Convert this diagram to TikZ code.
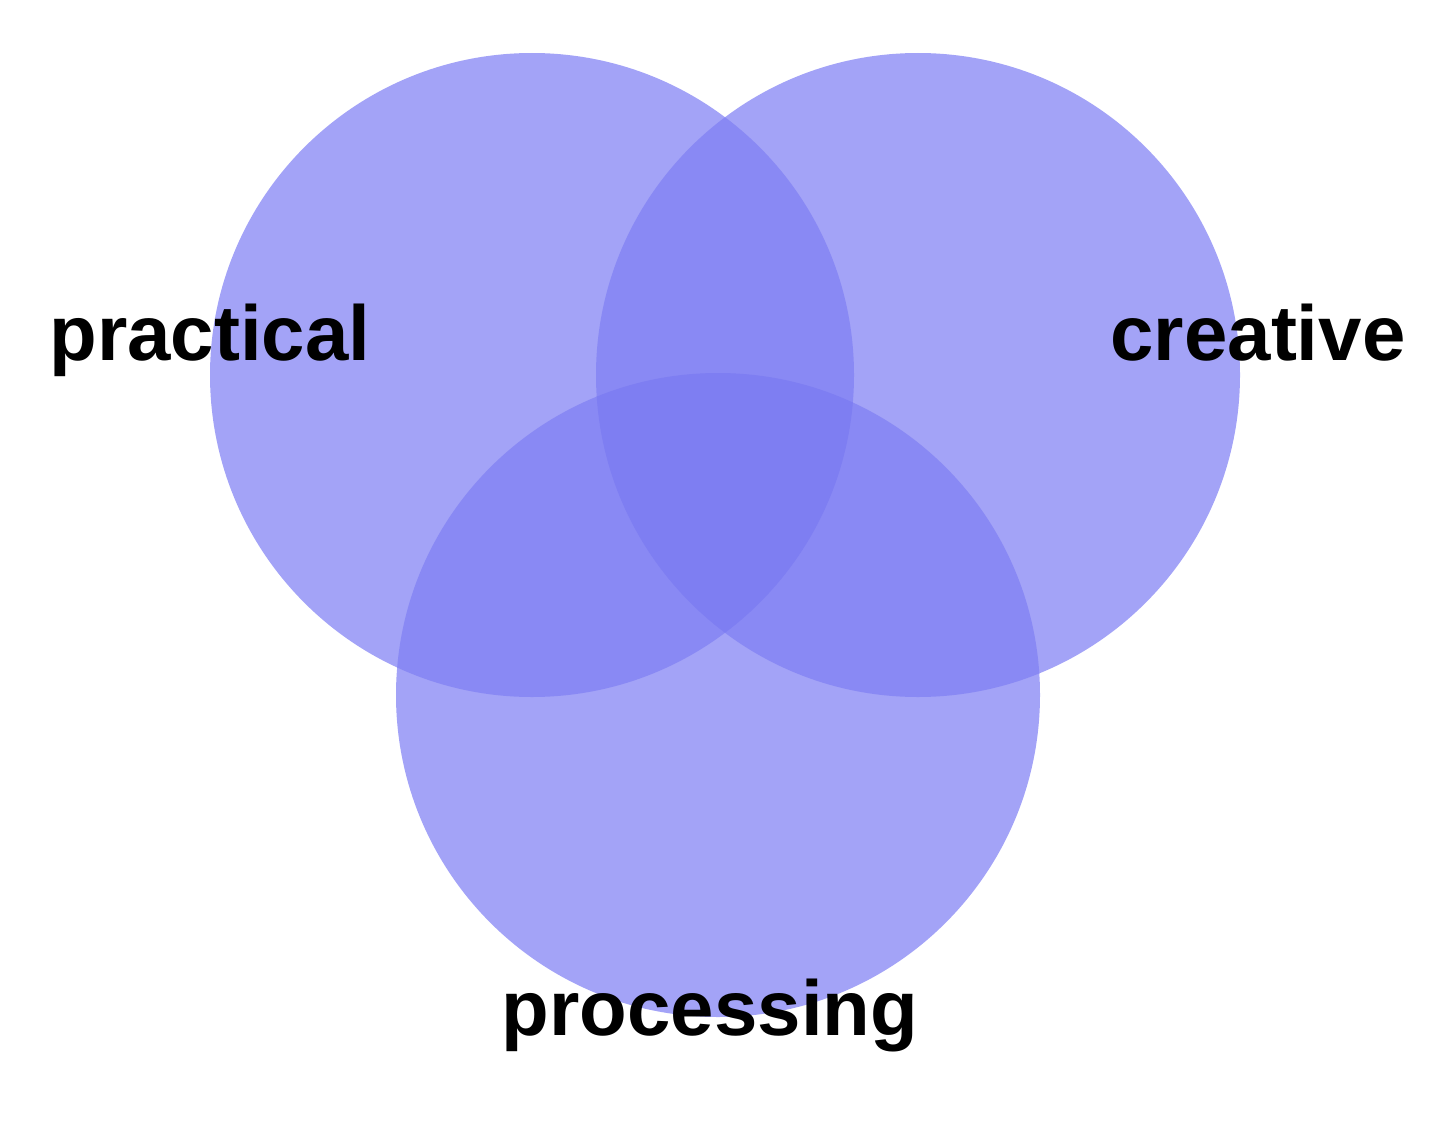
\documentclass[tikz,border=0pt]{standalone}
\usepackage{fontspec}
\setmainfont{Liberation Sans}
\definecolor{one}{RGB}{163,163,247}
\definecolor{two}{RGB}{137,137,244}
\definecolor{three}{RGB}{126,126,242}
\begin{document}
\begin{tikzpicture}[x=1pt,y=-1pt,lbl/.style={font=\fontsize{78}{80}\selectfont\bfseries,anchor=base,inner sep=0}]
\useasboundingbox (0,0) rectangle (1440,1124);
\def\r{322}
\coordinate (L) at (532,375);
\coordinate (R) at (918,375);
\coordinate (B) at (718,695);
\fill[one] (L) circle (\r);
\fill[one] (R) circle (\r);
\fill[one] (B) circle (\r);
\begin{scope}\clip (L) circle (\r); \fill[two] (R) circle (\r); \fill[two] (B) circle (\r);\end{scope}
\begin{scope}\clip (R) circle (\r); \fill[two] (B) circle (\r);\end{scope}
\begin{scope}\clip (L) circle (\r); \clip (R) circle (\r); \fill[three] (B) circle (\r);\end{scope}
\node[lbl] (p) at (210,360) {practical};
\node[lbl] (c) at (1258,360) {creative};
\node[lbl] (q) at (710,1035) {processing};
\end{tikzpicture}
\end{document}
